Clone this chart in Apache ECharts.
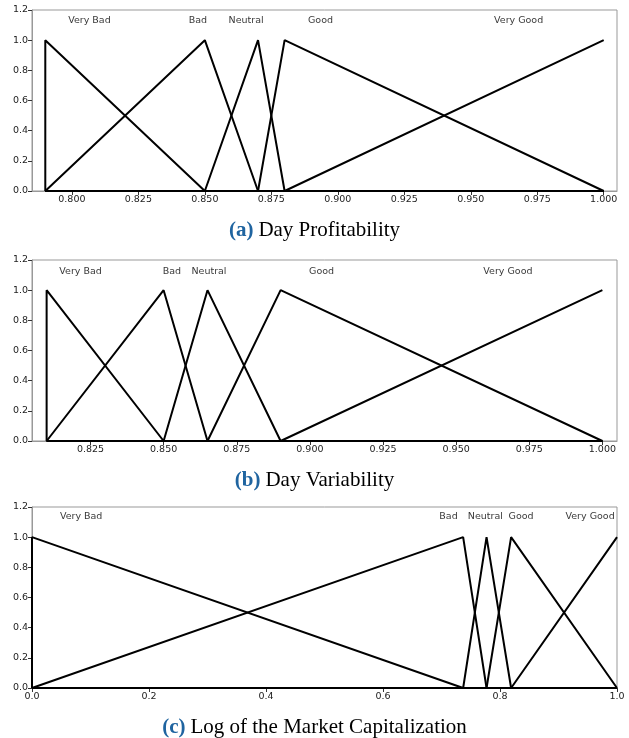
<!DOCTYPE html>
<html lang="en">
<head>
    <meta charset="UTF-8">
    <title>Membership Functions</title>
    <style>
        html, body { margin: 0; padding: 0; background: #fff; }
        #chart { width: 629px; height: 738px; }
    </style>
</head>
<body>
<div id="chart"></div>

<script src="https://cdn.jsdelivr.net/npm/echarts@6/dist/echarts.min.js"></script>
<script>
// term names, shared by all three panels
const terms = ['Very Bad', 'Bad', 'Neutral', 'Good', 'Very Good'];

// (a) Day Profitability - polyline vertices per term
const profitX = [
    [0.79, 0.79, 0.85, 1.0],
    [0.79, 0.85, 0.87, 1.0],
    [0.79, 0.85, 0.87, 0.88, 1.0],
    [0.79, 0.87, 0.88, 1.0],
    [0.79, 0.88, 1.0]
];
const profitY = [
    [0, 1, 0, 0],
    [0, 1, 0, 0],
    [0, 0, 1, 0, 0],
    [0, 0, 1, 0],
    [0, 0, 1]
];
const profitLabelX = [0.8066, 0.8474, 0.8655, 0.8935, 0.968];
const profitTicks = [0.800, 0.825, 0.850, 0.875, 0.900, 0.925, 0.950, 0.975, 1.000];

// (b) Day Variability
const varX = [
    [0.81, 0.81, 0.85, 1.0],
    [0.81, 0.85, 0.865, 1.0],
    [0.81, 0.85, 0.865, 0.89, 1.0],
    [0.81, 0.865, 0.89, 1.0],
    [0.81, 0.89, 1.0]
];
const varY = [
    [0, 1, 0, 0],
    [0, 1, 0, 0],
    [0, 0, 1, 0, 0],
    [0, 0, 1, 0],
    [0, 0, 1]
];
const varLabelX = [0.8216, 0.8528, 0.8655, 0.904, 0.9677];
const varTicks = [0.825, 0.850, 0.875, 0.900, 0.925, 0.950, 0.975, 1.000];

// (c) Log of the Market Capitalization
const capX = [
    [0, 0, 0.737, 1.0],
    [0, 0.737, 0.777, 1.0],
    [0, 0.737, 0.777, 0.819, 1.0],
    [0, 0.777, 0.819, 1.0],
    [0, 0.819, 1.0]
];
const capY = [
    [0, 1, 0, 0],
    [0, 1, 0, 0],
    [0, 0, 1, 0, 0],
    [0, 0, 1, 0],
    [0, 0, 1]
];
const capLabelX = [0.084, 0.712, 0.775, 0.836, 0.954];
const capTicks = [0.0, 0.2, 0.4, 0.6, 0.8, 1.0];

const yTicks = [0.0, 0.2, 0.4, 0.6, 0.8, 1.0, 1.2];

const panels = [
    { xs: profitX, ys: profitY, labelX: profitLabelX, labelY: 1.13, ticks: profitTicks, min: 0.785, max: 1.005, digits: 3, top: 10, tag: '(a)', caption: 'Day Profitability', captionTop: 215 },
    { xs: varX, ys: varY, labelX: varLabelX, labelY: 1.125, ticks: varTicks, min: 0.805, max: 1.005, digits: 3, top: 260, tag: '(b)', caption: 'Day Variability', captionTop: 465 },
    { xs: capX, ys: capY, labelX: capLabelX, labelY: 1.14, ticks: capTicks, min: 0, max: 1, digits: 1, top: 507, tag: '(c)', caption: 'Log of the Market Capitalization', captionTop: 712 }
];

const chart = echarts.init(document.getElementById('chart'), null, { renderer: 'canvas' });

const grid = [], xAxis = [], yAxis = [], series = [], title = [];
const tickFont = { fontFamily: 'DejaVu Sans', fontSize: 9.5, color: '#222' };

panels.forEach((p, i) => {
    grid.push({ left: 32, top: p.top, width: 585, height: 181, show: true, borderColor: '#999', borderWidth: 1, backgroundColor: 'transparent' });
    xAxis.push({
        type: 'value', gridIndex: i, min: p.min, max: p.max,
        splitLine: { show: false },
        axisLine: { onZero: false, lineStyle: { color: '#999' } },
        axisTick: { customValues: p.ticks, length: 4, lineStyle: { color: '#333' } },
        axisLabel: Object.assign({ customValues: p.ticks, margin: 4, formatter: v => v.toFixed(p.digits) }, tickFont)
    });
    yAxis.push({
        type: 'value', gridIndex: i, min: 0, max: 1.2,
        splitLine: { show: false },
        axisLine: { show: true, lineStyle: { color: '#999' } },
        axisTick: { customValues: yTicks, length: 4, lineStyle: { color: '#333' } },
        axisLabel: Object.assign({ customValues: yTicks, margin: 4, formatter: v => v.toFixed(1) }, tickFont)
    });
    terms.forEach((t, k) => {
        series.push({
            name: t, type: 'line', xAxisIndex: i, yAxisIndex: i,
            data: p.xs[k].map((x, j) => [x, p.ys[k][j]]),
            showSymbol: false, clip: false, silent: true,
            lineStyle: { color: '#000', width: 2 }
        });
    });
    series.push({
        type: 'scatter', xAxisIndex: i, yAxisIndex: i, symbolSize: 0, silent: true,
        data: terms.map((t, k) => ({ value: [p.labelX[k], p.labelY], name: t })),
        label: { show: true, position: 'inside', formatter: d => d.name, fontFamily: 'DejaVu Sans', fontSize: 9.5, color: '#000' }
    });
    title.push({
        text: '{tag|' + p.tag + '} {cap|' + p.caption + '}',
        left: 'center', top: p.captionTop,
        textStyle: {
            fontWeight: 'normal',
            rich: {
                tag: { fontFamily: 'Liberation Serif', fontSize: 21, fontWeight: 'bold', color: '#1f64a0' },
                cap: { fontFamily: 'Liberation Serif', fontSize: 21, fontWeight: 'normal', color: '#000' }
            }
        }
    });
});

chart.setOption({ animation: false, title, grid, xAxis, yAxis, series });
window.addEventListener('resize', function() { chart.resize(); });
</script>
</body>
</html>
